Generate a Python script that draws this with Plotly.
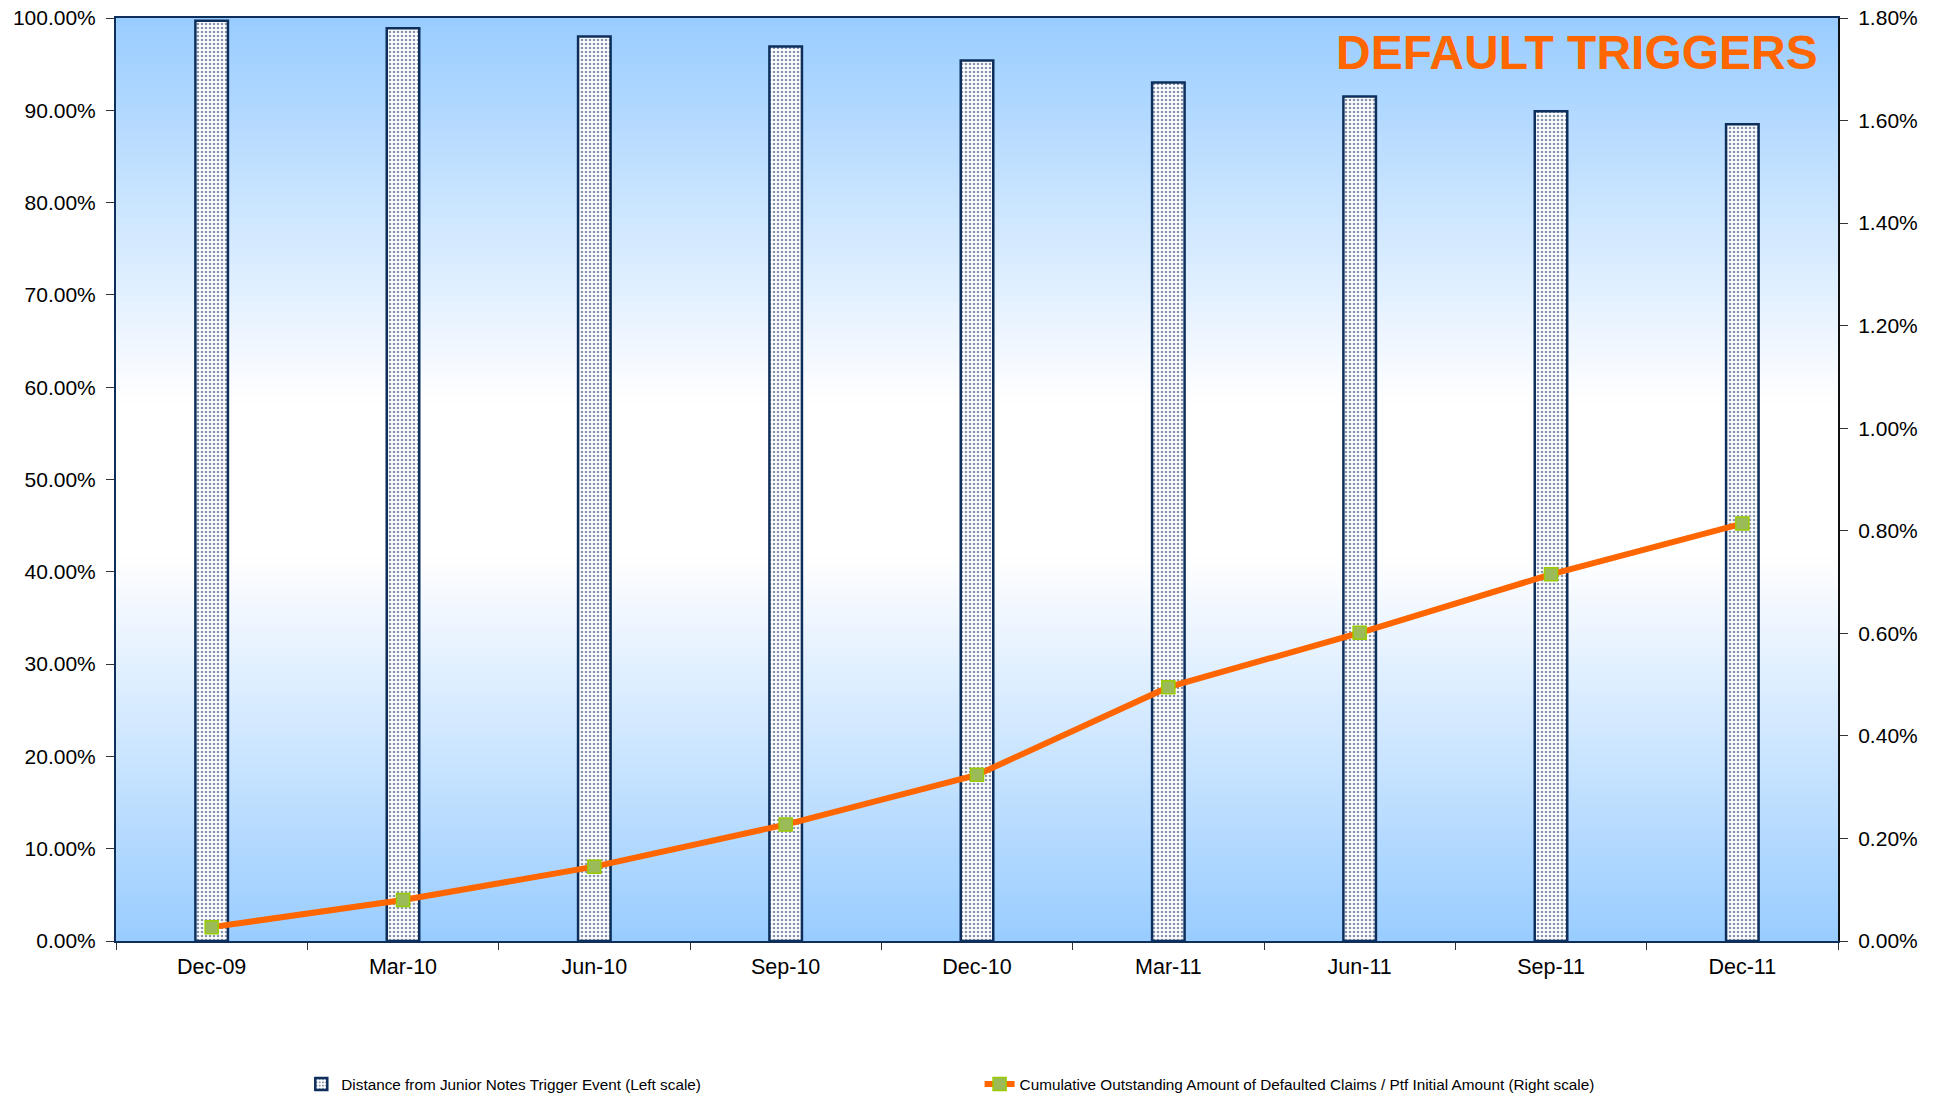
import plotly.graph_objects as go

categories = ["Dec-09", "Mar-10", "Jun-10", "Sep-10", "Dec-10", "Mar-11", "Jun-11", "Sep-11", "Dec-11"]
distance_pct = [99.7, 98.9, 98.0, 96.9, 95.4, 93.0, 91.5, 89.9, 88.5]
cumulative_pct = [0.027, 0.080, 0.145, 0.227, 0.324, 0.495, 0.601, 0.715, 0.814]

bar_name = "Distance from Junior Notes Trigger Event (Left scale)"
line_name = "Cumulative Outstanding Amount of Defaulted Claims / Ptf Initial Amount (Right scale)"

NAVY = "#0E2F5C"
FONT = "Liberation Sans, Arial, sans-serif"

fig = go.Figure()

fig.add_trace(go.Bar(
    x=categories, y=distance_pct, name=bar_name, yaxis="y", width=0.17,
    marker=dict(color="white", line=dict(color=NAVY, width=2.5),
                pattern=dict(shape=".", fgcolor=NAVY, bgcolor="white", size=4, solidity=0.35)),
    legend="legend", showlegend=True,
))
fig.add_trace(go.Scatter(
    x=categories, y=cumulative_pct, name=line_name, yaxis="y2", mode="lines+markers",
    line=dict(color="#FF6600", width=6),
    marker=dict(symbol="square", size=13, color="#9BBB59", line=dict(color="#99CC00", width=1.5)),
    legend="legend2", showlegend=True,
))

# vertical gradient background: light blue at edges, white in the middle
def mix(t):
    c0 = (0x99, 0xCC, 0xFF)
    c1 = (255, 255, 255)
    return "rgb(%d,%d,%d)" % tuple(round(a + (b - a) * t) for a, b in zip(c0, c1))

shapes = []
N = 120
for i in range(N):
    y0 = i / N
    y1 = (i + 1) / N
    mid = (y0 + y1) / 2
    t = 1 - abs(mid - 0.5) / 0.5
    t = min(1.0, t * 1.2)
    shapes.append(dict(type="rect", xref="x domain", yref="y domain", x0=0, x1=1, y0=y0, y1=y1 + 0.001,
                       fillcolor=mix(t), line=dict(width=0), layer="below"))

fig.update_layout(
    width=1941, height=1099,
    margin=dict(l=116, r=103, t=18, b=158, autoexpand=False),
    paper_bgcolor="white", plot_bgcolor="white",
    shapes=shapes,
    showlegend=True,
    font=dict(family=FONT, size=21, color="black"),
    xaxis=dict(type="category", showgrid=False, ticks="outside", tickson="boundaries", ticklen=7,
               tickcolor="#333", showline=True, linecolor=NAVY, linewidth=2, mirror=True,
               tickfont=dict(size=21.5), ticklabelstandoff=5, ticklabeloverflow="allow"),
    yaxis=dict(range=[0, 100], dtick=10, tickformat=".2f", ticksuffix="%", showgrid=False,
               zeroline=False, ticks="outside", ticklen=8, tickcolor="#333", showline=True,
               linecolor=NAVY, linewidth=2, tickfont=dict(size=21), ticklabelstandoff=6,
               ticklabeloverflow="allow"),
    yaxis2=dict(range=[0, 1.8], dtick=0.2, tickformat=".2f", ticksuffix="%", overlaying="y",
                side="right", showgrid=False, zeroline=False, ticks="outside", ticklen=8,
                tickcolor="#333", showline=True, linecolor="#111", linewidth=2,
                tickfont=dict(size=21), ticklabelstandoff=6, ticklabeloverflow="allow"),
    legend=dict(x=0.1076, y=-0.155, xanchor="left", yanchor="middle", orientation="h",
                font=dict(size=15.3, family=FONT), bgcolor="rgba(0,0,0,0)"),
    legend2=dict(x=0.5015, y=-0.155, xanchor="left", yanchor="middle", orientation="h",
                 font=dict(size=15.3, family=FONT), bgcolor="rgba(0,0,0,0)"),
    annotations=[dict(text="<b>DEFAULT TRIGGERS</b>", xref="paper", yref="paper", x=0.9895, y=0.963,
                      xanchor="right", yanchor="middle", showarrow=False,
                      font=dict(size=48, color="#FF6600", family=FONT))],
)

fig.write_html("out.html", config={"displayModeBar": False},
               post_script="document.body.style.margin='0';")
